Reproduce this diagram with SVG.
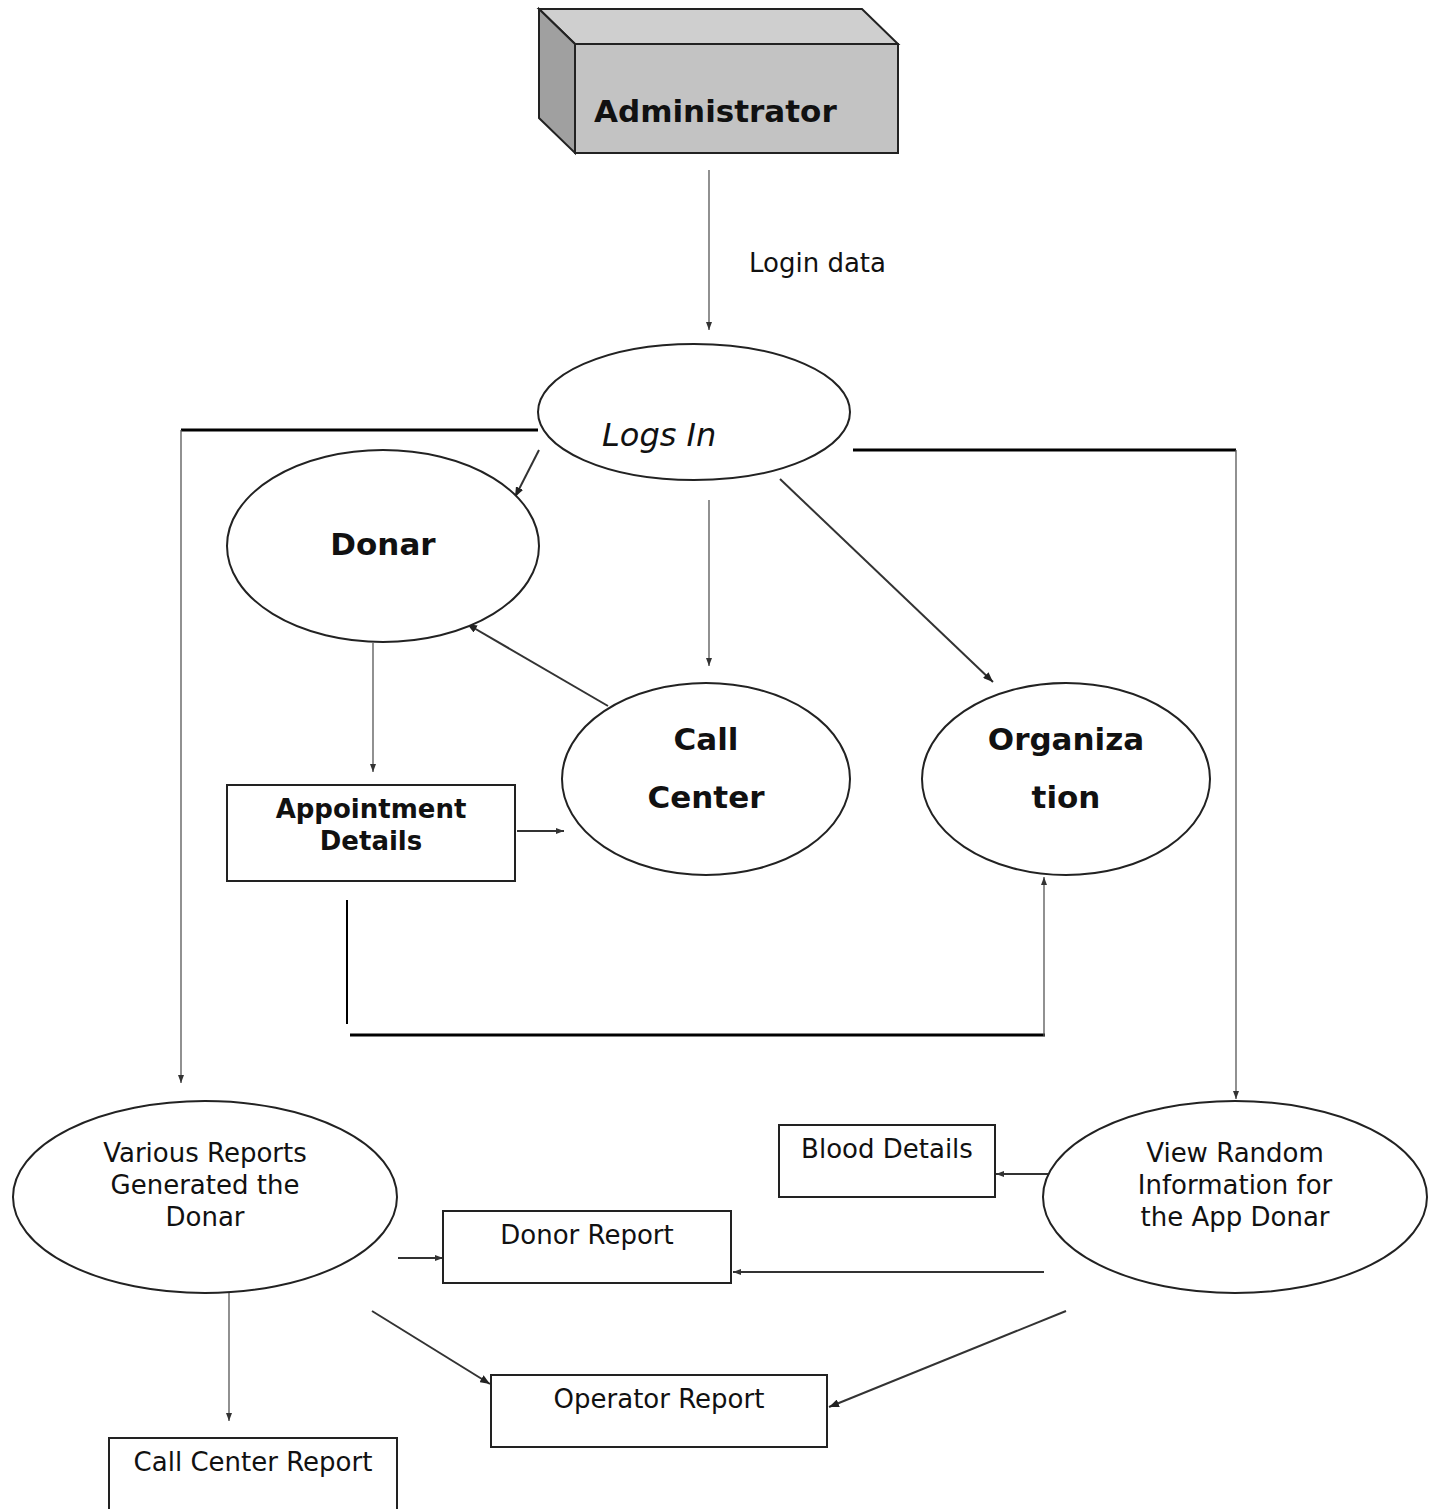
<svg xmlns="http://www.w3.org/2000/svg" width="1433" height="1509" viewBox="0 0 1433 1509">
  <style>
    text { font-family: "DejaVu Sans", Verdana, sans-serif; fill: #111; }
    .bold { font-weight: bold; font-size: 31px; }
    .label { font-size: 26px; text-anchor: middle; }
    .shape { fill: #fff; stroke: #222; stroke-width: 2; }
    .thin { stroke: #555; stroke-width: 1.3; fill: none; }
    .mid { stroke: #333; stroke-width: 2; fill: none; }
    .thick { stroke: #000; stroke-width: 3; fill: none; }
  </style>
  <defs>
    <marker id="arrow" viewBox="0 0 10 8" refX="10" refY="4" markerWidth="10" markerHeight="8" markerUnits="userSpaceOnUse" orient="auto">
      <path d="M0,0 L10,4 L0,8 Z" fill="#222"/>
    </marker>
    <marker id="arrowSmall" viewBox="0 0 8 6" refX="8" refY="3" markerWidth="8" markerHeight="6" markerUnits="userSpaceOnUse" orient="auto">
      <path d="M0,0 L8,3 L0,6 Z" fill="#333"/>
    </marker>
  </defs>

  <rect width="1433" height="1509" fill="#fff"/>

  <!-- connectors -->
  <g id="connectors">
    <line class="thin" x1="709" y1="170" x2="709" y2="330" marker-end="url(#arrowSmall)"/>
    <text x="749" y="272" style="font-size:26px">Login data</text>

    <polyline class="thick" points="538,430 181,430"/>
    <line class="thin" x1="181" y1="430" x2="181" y2="1083" marker-end="url(#arrowSmall)"/>
    <polyline class="thick" points="853,450 1236,450"/>
    <line class="thin" x1="1236" y1="450" x2="1236" y2="1099" marker-end="url(#arrowSmall)"/>

    <line class="mid" x1="539" y1="450" x2="515" y2="497" marker-end="url(#arrow)"/>
    <line class="thin" x1="709" y1="500" x2="709" y2="666" marker-end="url(#arrowSmall)"/>
    <line class="mid" x1="780" y1="479" x2="993" y2="682" marker-end="url(#arrow)"/>
    <line class="mid" x1="608" y1="706" x2="467" y2="624" marker-end="url(#arrow)"/>
    <line class="thin" x1="373" y1="643" x2="373" y2="772" marker-end="url(#arrowSmall)"/>
    <line class="mid" x1="517" y1="831" x2="564" y2="831" marker-end="url(#arrowSmall)"/>

    <line x1="347" y1="900" x2="347" y2="1024" stroke="#000" stroke-width="2"/>
    <line class="thick" x1="350" y1="1035" x2="1045" y2="1035"/>
    <line class="thin" x1="1044" y1="1036" x2="1044" y2="877" marker-end="url(#arrowSmall)"/>

    <line class="mid" x1="1068" y1="1174" x2="996" y2="1174" marker-end="url(#arrowSmall)"/>
    <line class="mid" x1="398" y1="1258" x2="443" y2="1258" marker-end="url(#arrowSmall)"/>
    <line class="mid" x1="1044" y1="1272" x2="733" y2="1272" marker-end="url(#arrowSmall)"/>
    <line class="mid" x1="372" y1="1311" x2="490" y2="1384" marker-end="url(#arrow)"/>
    <line class="mid" x1="1066" y1="1311" x2="829" y2="1407" marker-end="url(#arrow)"/>
    <line class="thin" x1="229" y1="1281" x2="229" y2="1421" marker-end="url(#arrowSmall)"/>
  </g>

  <!-- Administrator: 3D box -->
  <g id="administrator">
    <polygon points="539,9 862,9 898,44 575,44" fill="#cfcfcf" stroke="#222" stroke-width="2"/>
    <polygon points="539,9 575,44 575,153 539,118" fill="#a0a0a0" stroke="#222" stroke-width="2"/>
    <rect x="575" y="44" width="323" height="109" fill="#c3c3c3" stroke="#222" stroke-width="2"/>
    <text class="bold" x="594" y="122">Administrator</text>
  </g>

  <g id="logs-in">
    <ellipse class="shape" cx="694" cy="412" rx="156" ry="68"/>
    <text x="602" y="446" style="font-size:32px;font-style:italic">Logs In</text>
  </g>

  <g id="donar">
    <ellipse class="shape" cx="383" cy="546" rx="156" ry="96"/>
    <text class="bold" x="383" y="555" text-anchor="middle">Donar</text>
  </g>

  <g id="call-center">
    <ellipse class="shape" cx="706" cy="779" rx="144" ry="96"/>
    <text class="bold" x="706" y="750" text-anchor="middle">Call</text>
    <text class="bold" x="706" y="808" text-anchor="middle">Center</text>
  </g>

  <g id="organization">
    <ellipse class="shape" cx="1066" cy="779" rx="144" ry="96"/>
    <text class="bold" x="1066" y="750" text-anchor="middle">Organiza</text>
    <text class="bold" x="1066" y="808" text-anchor="middle">tion</text>
  </g>

  <g id="appointment-details">
    <rect class="shape" x="227" y="785" width="288" height="96"/>
    <text x="371" y="818" text-anchor="middle" style="font-size:26px;font-weight:bold">Appointment</text>
    <text x="371" y="850" text-anchor="middle" style="font-size:26px;font-weight:bold">Details</text>
  </g>

  <g id="various-reports">
    <ellipse class="shape" cx="205" cy="1197" rx="192" ry="96"/>
    <text class="label" x="205" y="1162">Various Reports</text>
    <text class="label" x="205" y="1194">Generated the</text>
    <text class="label" x="205" y="1226">Donar</text>
  </g>

  <g id="view-random">
    <ellipse class="shape" cx="1235" cy="1197" rx="192" ry="96"/>
    <text class="label" x="1235" y="1162">View Random</text>
    <text class="label" x="1235" y="1194">Information for</text>
    <text class="label" x="1235" y="1226">the App Donar</text>
  </g>

  <g id="blood-details">
    <rect class="shape" x="779" y="1125" width="216" height="72"/>
    <text class="label" x="887" y="1158">Blood Details</text>
  </g>

  <g id="donor-report">
    <rect class="shape" x="443" y="1211" width="288" height="72"/>
    <text class="label" x="587" y="1244">Donor Report</text>
  </g>

  <g id="operator-report">
    <rect class="shape" x="491" y="1375" width="336" height="72"/>
    <text class="label" x="659" y="1408">Operator Report</text>
  </g>

  <g id="call-center-report">
    <rect class="shape" x="109" y="1438" width="288" height="90"/>
    <text class="label" x="253" y="1471">Call Center Report</text>
  </g>
</svg>
